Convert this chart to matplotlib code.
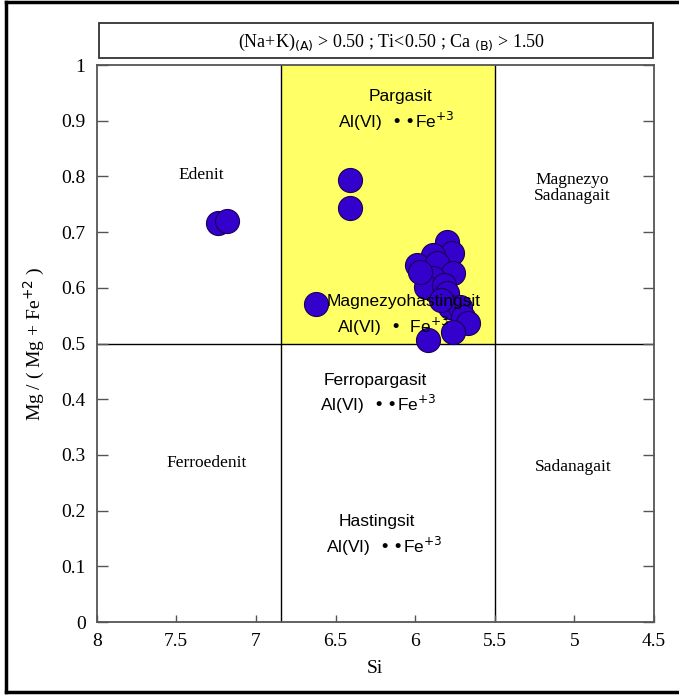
import matplotlib
matplotlib.use('Agg')
import matplotlib.pyplot as plt
from matplotlib.patches import Rectangle
from matplotlib.lines import Line2D
from matplotlib.ticker import FormatStrFormatter, FixedLocator

# Amfibol analizleri: Si (apfu) ve Mg / (Mg + Fe+2)
si = [7.24, 7.18, 6.41, 6.41, 6.62,
      5.80, 5.77, 5.89, 5.99, 5.86, 5.76, 5.89, 5.93, 5.82, 5.80,
      5.78, 5.72, 5.70, 5.67, 5.76, 5.92, 5.97, 5.84]
mg_ratio = [0.716, 0.720, 0.794, 0.743, 0.571,
            0.682, 0.663, 0.659, 0.641, 0.645, 0.627, 0.618, 0.601, 0.605, 0.591,
            0.566, 0.566, 0.548, 0.537, 0.521, 0.506, 0.628, 0.578]

# Alan sinirlari
si_left = 6.84
si_right = 5.5
mg_split = 0.5

x_ticks = [8, 7.5, 7, 6.5, 6, 5.5, 5, 4.5]
y_ticks = [0, 0.1, 0.2, 0.3, 0.4, 0.5, 0.6, 0.7, 0.8, 0.9, 1]

serif = 'Liberation Serif'
sans = 'Liberation Sans'

fig = plt.figure(figsize=(6.79, 6.97), dpi=100)
ax = fig.add_axes([0.1424, 0.1076, 0.8208, 0.7991])

# Pargasit / magnezyohastingsit alani
ax.add_patch(Rectangle((si_left, mg_split), si_right - si_left, 1 - mg_split,
                       facecolor='#ffff66', edgecolor='none', zorder=0))
ax.axvline(si_left, color='black', lw=1.0, zorder=1)
ax.axvline(si_right, color='black', lw=1.0, zorder=1)
ax.axhline(mg_split, color='black', lw=1.0, zorder=1)

ax.scatter(si, mg_ratio, s=300, color='#3300cc', edgecolors='#1a0055',
           linewidths=0.8, zorder=2)

ax.set_xlim(8, 4.5)
ax.set_ylim(0, 1)

ax.xaxis.set_major_locator(FixedLocator(x_ticks))
ax.xaxis.set_minor_locator(FixedLocator([7, 6, 5]))
ax.yaxis.set_major_locator(FixedLocator(y_ticks))
ax.xaxis.set_major_formatter(FormatStrFormatter('%g'))
ax.yaxis.set_major_formatter(FormatStrFormatter('%g'))
ax.tick_params(axis='x', which='major', direction='in', length=5, width=1,
               color='#555555', top=False, pad=8)
ax.tick_params(axis='x', which='minor', direction='in', length=10, width=1,
               color='#555555', top=False)
ax.tick_params(axis='y', which='major', direction='in', length=8, width=1,
               color='#555555', left=True, right=True, pad=8)
for lab in ax.get_xticklabels() + ax.get_yticklabels():
    lab.set_fontfamily(serif)
    lab.set_fontsize(14)

for sp in ax.spines.values():
    sp.set_color('#555555')
    sp.set_linewidth(1.3)

ax.set_xlabel('Si', fontfamily=serif, fontsize=14, labelpad=7)
ax.set_ylabel('Mg / ( Mg + Fe$^{+2}$ )', fontfamily=serif, fontsize=14, labelpad=10)

# Alan isimleri
ax.text(7.345, 0.803, 'Edenit', family=serif, fontsize=12.5, ha='center', va='center')
ax.text(7.31, 0.285, 'Ferroedenit', family=serif, fontsize=12.5, ha='center', va='center')
ax.text(5.015, 0.78, 'Magnezyo\nSadanagait', family=serif, fontsize=12.5,
        ha='center', va='center', linespacing=1.0)
ax.text(5.01, 0.278, 'Sadanagait', family=serif, fontsize=12.5, ha='center', va='center')

ax.text(6.095, 0.944, 'Pargasit', family=sans, fontsize=12.5, ha='center', va='center')
ax.text(6.12, 0.899, 'Al(VI)  •\u2009•Fe$^{+3}$', family=sans, fontsize=12.5, ha='center', va='center')
ax.text(6.075, 0.575, 'Magnezyohastingsit', family=sans, fontsize=12.5, ha='center', va='center')
ax.text(6.135, 0.531, 'Al(VI)  •  Fe$^{+3}$', family=sans, fontsize=12.5, ha='center', va='center')
ax.text(6.25, 0.433, 'Ferropargasit', family=sans, fontsize=12.5, ha='center', va='center')
ax.text(6.235, 0.391, 'Al(VI)  •\u2009•Fe$^{+3}$', family=sans, fontsize=12.5, ha='center', va='center')
ax.text(6.24, 0.18, 'Hastingsit', family=sans, fontsize=12.5, ha='center', va='center')
ax.text(6.195, 0.135, 'Al(VI)  •\u2009•Fe$^{+3}$', family=sans, fontsize=12.5, ha='center', va='center')

# Ust bilgi kutusu
fig.patches.append(Rectangle((0.1458, 0.9168), 0.8159, 0.0502, transform=fig.transFigure,
                             facecolor='white', edgecolor='#333333', lw=1.3))
fig.text(0.577, 0.9397,
         '(Na+K)$_{\\mathrm{(A)}}$ > 0.50 ; Ti<0.50 ; Ca $_{\\mathrm{(B)}}$ > 1.50',
         family=serif, fontsize=13, ha='center', va='center')

# Sayfa cercevesi
frame_kw = dict(transform=fig.transFigure, color='black', lw=2.5)
fig.lines.append(Line2D([0.009, 0.009], [0.007, 0.997], **frame_kw))
fig.lines.append(Line2D([0.009, 1.0], [0.997, 0.997], **frame_kw))
fig.lines.append(Line2D([0.009, 1.0], [0.007, 0.007], **frame_kw))

fig.savefig('out.png', dpi=100)
